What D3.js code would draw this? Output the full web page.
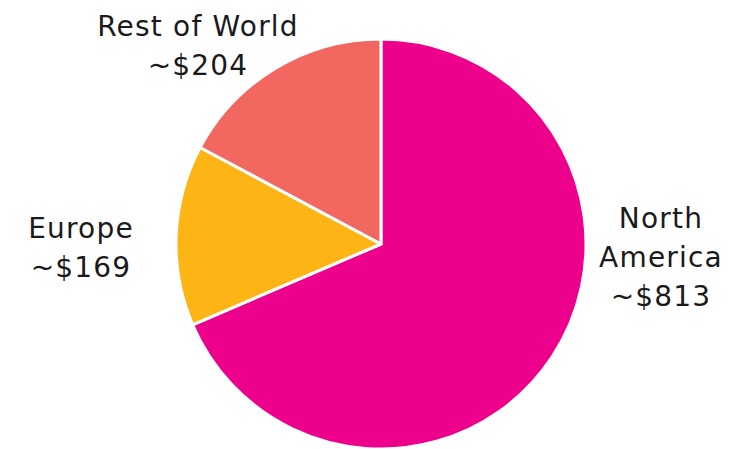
<!DOCTYPE html>
<html>
<head>
<meta charset="utf-8">
<script src="https://cdn.jsdelivr.net/npm/d3@7"></script>
<style>
  body { margin: 0; background: #fff; }
  text { font-family: "URW Gothic", "Century Gothic", "DejaVu Sans", sans-serif; fill: #1a1a1a; }
</style>
</head>
<body>
<div id="chart"></div>
<script>
// data
const regions = ["North America", "Europe", "Rest of World"];
const revenue = [813, 169, 204];
const labelLines = [["North", "America", "~$813"], ["Europe", "~$169"], ["Rest of World", "~$204"]];
const colors = ["#ec008c", "#fdb515", "#f26861"];

// where each label block sits (centre x, first baseline y)
const labelPos = [[661, 228], [81, 238], [198, 36]];

const width = 730, height = 449;
const cx = 381, cy = 244, radius = 205;

const svg = d3
  .select("#chart")
  .append("svg")
  .attr("width", width)
  .attr("height", height);

const data = regions.map((r, i) => ({ region: r, value: revenue[i], i: i }));

const pie = d3.pie().sort(null).value((d) => d.value);
const arc = d3.arc().innerRadius(0).outerRadius(radius);

const g = svg.append("g").attr("transform", `translate(${cx},${cy})`);

g.selectAll("path")
  .data(pie(data))
  .join("path")
  .attr("d", arc)
  .attr("fill", (d) => colors[d.data.i])
  .attr("stroke", "#fff")
  .attr("stroke-width", 3)
  .attr("stroke-linejoin", "round");

// labels
data.forEach((d, i) => {
  const t = svg
    .append("text")
    .attr("text-anchor", "middle")
    .style("font-size", "28px")
    .style("letter-spacing", "1.2px");
  labelLines[i].forEach((line, j) => {
    t.append("tspan")
      .attr("x", labelPos[i][0])
      .attr("y", labelPos[i][1] + j * 39)
      .text(line);
  });
});
</script>
</body>
</html>
